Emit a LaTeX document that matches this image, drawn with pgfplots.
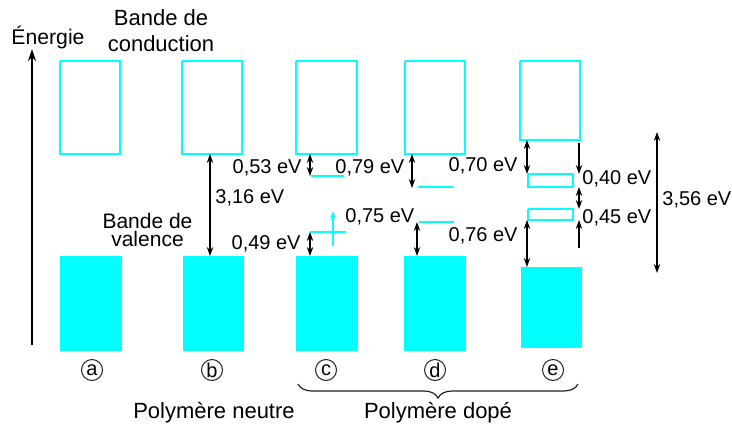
\documentclass[border=0pt]{standalone}
\usepackage{fontspec}
\setmainfont{Liberation Sans}
\usepackage{pgfplots}
\pgfplotsset{compat=1.18}
\usetikzlibrary{arrows.meta,decorations.pathreplacing}
\definecolor{band}{HTML}{00FFFF}
\definecolor{txt}{HTML}{222222}
\newcommand{\crect}[4]{\addplot[draw=band, line width=1pt, line join=miter, forget plot] coordinates {(#1,#2) (#3,#2) (#3,#4) (#1,#4) (#1,#2)};}
\newcommand{\frect}[4]{\addplot[fill=band, draw=band, line width=0.3pt, forget plot] coordinates {(#1,#2) (#3,#2) (#3,#4) (#1,#4) (#1,#2)};}
\newcommand{\lev}[3]{\addplot[draw=band, line width=1pt, forget plot] coordinates {(#1,#3) (#2,#3)};}
\newcommand{\darr}[3]{\addplot[{Stealth[length=4.5pt,width=3.2pt]}-{Stealth[length=4.5pt,width=3.2pt]}, line width=0.85pt, black, forget plot] coordinates {(#1,#2) (#1,#3)};}
\newcommand{\sarr}[3]{\addplot[-{Stealth[length=4.5pt,width=3.2pt]}, line width=0.85pt, black, forget plot] coordinates {(#1,#2) (#1,#3)};}
\newcommand{\circl}[2]{\node[circle, draw=txt, line width=0.5pt, inner sep=0pt, minimum size=10.5pt, font=\fontsize{10}{10}\selectfont] at (axis cs:#1,370) {#2};}
\begin{document}
\begin{tikzpicture}
\begin{axis}[scale only axis, width=366pt, height=215pt,
  xmin=0, xmax=732, ymin=0, ymax=430, y dir=reverse,
  hide axis, clip=false,
  every node/.style={text=txt, font=\fontsize{10}{12}\selectfont}]
\path (axis cs:0,0) rectangle (axis cs:732,430);
% conduction bands
\crect{60}{61}{120}{154}
\crect{182}{61}{242}{154}
\crect{296}{61}{357}{154}
\crect{405}{61}{465}{154}
\crect{520}{61}{580}{140}
% valence bands
\frect{60}{256}{121}{350}
\frect{183}{256}{243}{350}
\frect{296}{256}{357}{350}
\frect{404}{256}{465}{350}
\frect{521}{267}{581}{347}
% levels
\lev{311}{344}{176}
\lev{310}{346}{232}
\addplot[-{Stealth[length=4pt,width=3pt]}, draw=band, line width=1pt, forget plot] coordinates {(333,246) (333,211)};
\lev{418}{454}{187}
\lev{419}{454}{222}
\crect{528}{174}{573}{187}
\crect{528}{209}{573}{220}
% arrows
\addplot[-{Stealth[length=6pt,width=4pt]}, line width=1pt, black, forget plot] coordinates {(32,345) (32,49)};
\darr{210}{154}{256}
\darr{310}{154}{176}
\darr{310}{232}{256}
\darr{412}{154}{188}
\darr{417}{222}{256}
\darr{527}{140}{174}
\darr{527}{220}{267}
\sarr{579}{143}{174}
\darr{579}{187}{209}
\sarr{579}{248}{220}
\darr{657}{132}{273}
% labels
\node[font=\fontsize{10.6}{12}\selectfont] at (axis cs:48,38) {Énergie};
\node[font=\fontsize{11}{12}\selectfont, inner sep=0pt] at (axis cs:161,18) {Bande de};
\node[font=\fontsize{11}{12}\selectfont, inner sep=0pt] at (axis cs:161,44) {conduction};
\node[font=\fontsize{10.5}{12}\selectfont, inner sep=0pt] at (axis cs:147.5,221) {Bande de};
\node[font=\fontsize{10.5}{12}\selectfont, inner sep=0pt] at (axis cs:147.5,239) {valence};
\node[anchor=west, inner sep=0pt] at (axis cs:215,198) {3,16 eV};
\node[anchor=east, inner sep=0pt] at (axis cs:302,168) {0,53 eV};
\node[anchor=west, inner sep=0pt] at (axis cs:335,168) {0,79 eV};
\node[anchor=west, inner sep=0pt] at (axis cs:345,217) {0,75 eV};
\node[anchor=east, inner sep=0pt] at (axis cs:301,244) {0,49 eV};
\node[anchor=east, inner sep=0pt] at (axis cs:518,166) {0,70 eV};
\node[anchor=east, inner sep=0pt] at (axis cs:518,236) {0,76 eV};
\node[anchor=west, inner sep=0pt] at (axis cs:582,179) {0,40 eV};
\node[anchor=west, inner sep=0pt] at (axis cs:582,218) {0,45 eV};
\node[anchor=west, inner sep=0pt] at (axis cs:662,200) {3,56 eV};
% circled letters
\circl{92}{a}
\circl{212}{b}
\circl{326}{c}
\circl{435}{d}
\circl{553}{e}
\draw[decorate, decoration={brace, mirror, amplitude=7pt}, line width=0.6pt, txt] (axis cs:298,384) -- (axis cs:578,384);
\node[font=\fontsize{11}{12}\selectfont] at (axis cs:214,413) {Polymère neutre};
\node[font=\fontsize{11}{12}\selectfont] at (axis cs:438,413) {Polymère dopé};
\end{axis}
\end{tikzpicture}
\end{document}
